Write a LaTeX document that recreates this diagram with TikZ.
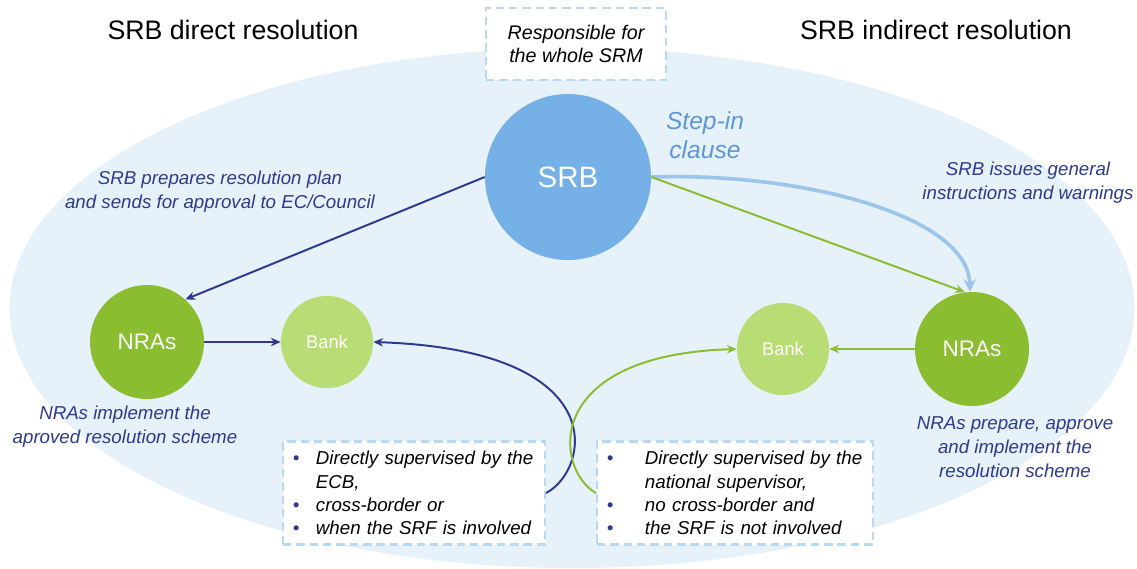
\documentclass[tikz,border=0pt]{standalone}
\usepackage{fontspec}
\setmainfont{Liberation Sans}
\usepackage{tikz}
\usetikzlibrary{arrows.meta,positioning}
\definecolor{srmfill}{HTML}{E6F1FA}
\definecolor{srbblue}{HTML}{75B0E6}
\definecolor{stepblue}{HTML}{5B97D9}
\definecolor{navy}{HTML}{2E3A8F}
\definecolor{nragreen}{HTML}{8ABD30}
\definecolor{bankgreen}{HTML}{B8DD74}
\definecolor{boxline}{HTML}{B9D8F3}
\definecolor{warnblue}{HTML}{9CC5EC}
\newcommand{\fs}[2]{\fontsize{#1}{#2}\selectfont}
\newcommand{\bul}[1]{\makebox[#1][l]{\textcolor{navy}{\textbullet}}}

\begin{document}
\begin{tikzpicture}[x=0.025cm,y=-0.025cm,
  circ/.style={circle,fill=#1,text=white,inner sep=0pt},
  note/.style={text=navy,font=\fs{13.3}{17}\itshape,align=center},
  dbox/.style={draw=boxline,line width=1.5pt,dash pattern=on 6pt off 3.5pt,fill=white},
  navyarrow/.style={navy,line width=1.4pt,-{Stealth[length=7pt,width=6pt]}},
  greenarrow/.style={nragreen,line width=1.4pt,-{Stealth[length=7pt,width=6pt]}}]
\useasboundingbox (0,0) rectangle (1137,568);
\fill[srmfill] (572,308) ellipse [x radius=14.06cm, y radius=6.5cm];
\node[font=\fs{19}{22}] (ttl) at (233,30) {SRB direct resolution};
\node[font=\fs{19}{22}] (ttr) at (936,30) {SRB indirect resolution};
\node[dbox,minimum width=4.5cm,minimum height=1.8cm,align=center,font=\fs{14}{17}\itshape] (resp) at (576,44) {Responsible for\\the whole SRM};
\node[circ=srbblue,minimum size=4.15cm,font=\fs{21}{24}] (srb) at (568,177) {SRB};
\node[text=stepblue,font=\fs{17.5}{21}\itshape,align=center] (step) at (705,135) {Step-in\\clause};
\node[note] (plan) at (220,192) {SRB prepares resolution plan\\and sends for approval to EC/Council};
\node[note] (instr) at (1028,183) {SRB issues general\\instructions and warnings};
\node[circ=nragreen,minimum size=2.85cm,font=\fs{16}{19}] (nral) at (147,342) {NRAs};
\node[circ=bankgreen,minimum size=2.3cm,font=\fs{13}{16}] (bankl) at (327,342) {Bank};
\node[circ=bankgreen,minimum size=2.3cm,font=\fs{13}{16}] (bankr) at (783,349) {Bank};
\node[circ=nragreen,minimum size=2.85cm,font=\fs{16}{19}] (nrar) at (972,349) {NRAs};
\node[note] (impl) at (125,427) {NRAs implement the\\aproved resolution scheme};
\node[note] (prep) at (1015,447) {NRAs prepare, approve\\and implement the\\resolution scheme};
\node[dbox,minimum width=6.55cm,minimum height=2.575cm,inner xsep=0.25cm,text width=6.05cm,align=left,font=\fs{13.3}{16.5}\itshape] (boxl) at (414,493) {\bul{0.575cm}Directly supervised by the\\\hspace*{0.575cm}ECB,\\\bul{0.575cm}cross-border or\\\bul{0.575cm}when the SRF is involved};
\node[dbox,minimum width=6.9cm,minimum height=2.575cm,inner xsep=0.25cm,text width=6.4cm,align=left,font=\fs{13.3}{16.5}\itshape] (boxr) at (735,493) {\bul{0.95cm}Directly supervised by the\\\hspace*{0.95cm}national supervisor,\\\bul{0.95cm}no cross-border and\\\bul{0.95cm}the SRF is not involved};
\draw[navyarrow] (srb.west) -- (nral.48);
\draw[navyarrow] (nral) -- (bankl);
\draw[navyarrow] (boxl.east) .. controls (590,470) and (615,350) .. (bankl.east);
\draw[greenarrow] (boxr.west) .. controls (555,470) and (540,355) .. (bankr.west);
\draw[greenarrow] (nrar) -- (bankr);
\draw[warnblue,line width=2.6pt,-{Stealth[length=9pt,width=9pt]}] (srb.east) .. controls (800,172) and (968,215) .. (nrar.92);
\draw[greenarrow] (srb.east) -- (nrar.97);
\end{tikzpicture}
\end{document}
